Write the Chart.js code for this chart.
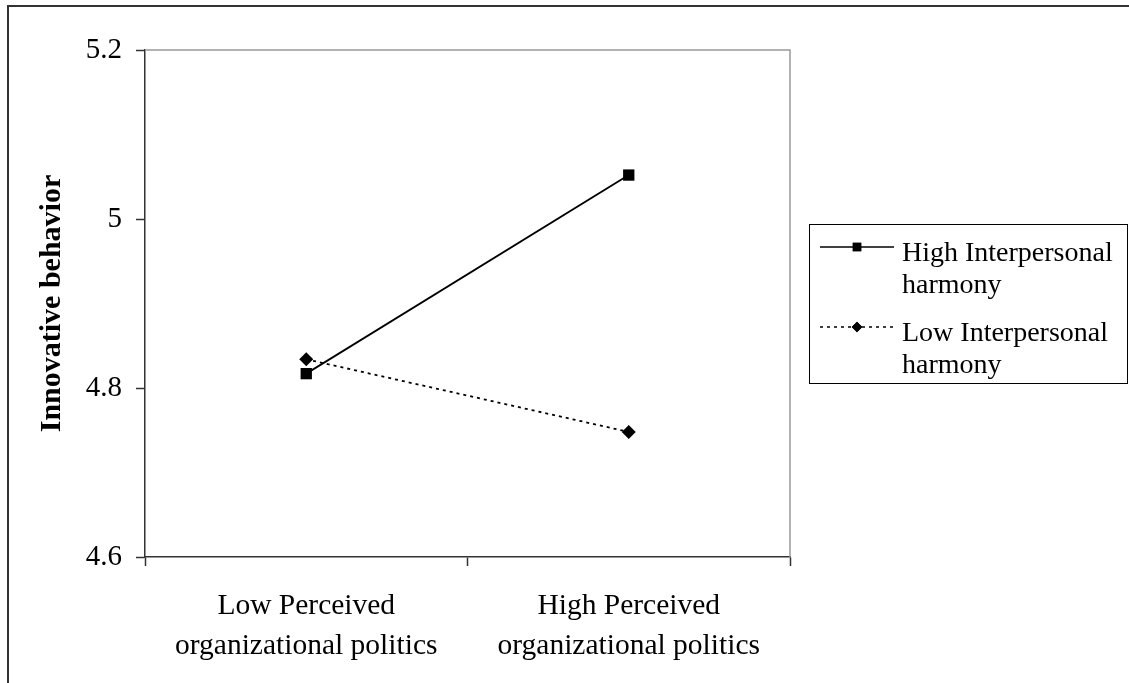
<!DOCTYPE html>
<html>
<head>
<meta charset="utf-8">
<script src="https://cdn.jsdelivr.net/npm/chart.js@4/dist/chart.umd.min.js"></script>
<style>
  html, body { margin: 0; padding: 0; background: #fff; }
  #chart-container { width: 1129px; height: 683px; }
</style>
</head>
<body>
<div id="chart-container"><canvas id="chart" width="1129" height="683"></canvas></div>
<script>
const categories = [
  ['Low Perceived', 'organizational politics'],
  ['High Perceived', 'organizational politics']
]
const highHarmony = [4.817, 5.052]
const lowHarmony = [4.834, 4.748]
const seriesLabels = [
  ['High Interpersonal', 'harmony'],
  ['Low Interpersonal', 'harmony']
]
const yTicks = [4.6, 4.8, 5.0, 5.2]

const FONT = "'Liberation Serif', 'Times New Roman', serif"

// page frame + grey top/right edge of the plot area
const framePlugin = {
  id: 'frame',
  beforeDraw (chart) {
    const ctx = chart.ctx
    ctx.save()
    ctx.fillStyle = '#fff'
    ctx.fillRect(0, 0, chart.width, chart.height)
    ctx.strokeStyle = '#333'
    ctx.lineWidth = 2
    ctx.beginPath()
    ctx.moveTo(8, chart.height)
    ctx.lineTo(8, 6)
    ctx.lineTo(chart.width, 6)
    ctx.stroke()
    ctx.restore()
  },
  afterDraw (chart) {
    const { left, top, right, bottom } = chart.chartArea
    const ctx = chart.ctx
    ctx.save()
    ctx.strokeStyle = '#999'
    ctx.lineWidth = 1.5
    ctx.beginPath()
    ctx.moveTo(left, top)
    ctx.lineTo(right, top)
    ctx.lineTo(right, bottom)
    ctx.stroke()
    ctx.restore()
  }
}

// boxed legend with two-line labels, like the Excel original
const boxLegend = {
  id: 'boxLegend',
  afterDraw (chart) {
    const ctx = chart.ctx
    const x0 = 809
    const y0 = 224
    ctx.save()
    ctx.strokeStyle = '#000'
    ctx.lineWidth = 1
    ctx.strokeRect(x0 + 0.5, y0 + 0.5, 318, 159)
    ctx.font = '28px ' + FONT
    ctx.fillStyle = '#000'
    ctx.textBaseline = 'alphabetic'
    chart.data.datasets.forEach((ds, i) => {
      const base = 261 + i * 80
      const lineY = base - 14
      ctx.strokeStyle = ds.borderColor
      ctx.lineWidth = 1.5
      ctx.setLineDash(ds.borderDash || [])
      ctx.beginPath()
      ctx.moveTo(820, lineY)
      ctx.lineTo(894, lineY)
      ctx.stroke()
      ctx.setLineDash([])
      Chart.helpers.drawPoint(ctx, {
        pointStyle: ds.pointStyle,
        radius: ds.pointRadius * 0.75,
        borderWidth: 0
      }, 857, lineY)
      ctx.fillStyle = '#000'
      ctx.fill()
      seriesLabels[i].forEach((t, j) => {
        ctx.fillText(t, 902, base + j * 32)
      })
    })
    ctx.restore()
  }
}

new Chart(document.getElementById('chart'), {
  type: 'line',
  data: {
    labels: categories,
    datasets: [
      {
        label: seriesLabels[0].join(' '),
        data: highHarmony,
        borderColor: '#000',
        backgroundColor: '#000',
        borderWidth: 1.8,
        pointStyle: 'rect',
        pointRadius: 8,
        pointBorderWidth: 0
      },
      {
        label: seriesLabels[1].join(' '),
        data: lowHarmony,
        borderColor: '#000',
        backgroundColor: '#000',
        borderWidth: 1.8,
        borderDash: [3, 4],
        pointStyle: 'rectRot',
        pointRadius: 7,
        pointBorderWidth: 0
      }
    ]
  },
  options: {
    responsive: false,
    animation: false,
    layout: { padding: { top: 50, right: 339, left: 0, bottom: 0 } },
    plugins: {
      legend: { display: false },
      tooltip: { enabled: false }
    },
    scales: {
      x: {
        offset: true,
        afterFit (scale) { scale.height = 126 },
        grid: {
          offset: true,
          drawOnChartArea: false,
          drawTicks: true,
          tickLength: 9,
          tickWidth: 1.5,
          tickColor: '#333'
        },
        border: { color: '#333', width: 1.5 },
        ticks: {
          color: '#000',
          padding: 21,
          maxRotation: 0,
          font: { family: FONT, size: 29.5, lineHeight: 1.33 }
        }
      },
      y: {
        min: 4.6,
        max: 5.2,
        afterFit (scale) { scale.width = 145 },
        afterBuildTicks (scale) { scale.ticks = yTicks.map(v => ({ value: v })) },
        grid: {
          drawOnChartArea: false,
          drawTicks: true,
          tickLength: 9,
          tickWidth: 1.5,
          tickColor: '#333'
        },
        border: { color: '#333', width: 1.5 },
        ticks: {
          color: '#000',
          padding: 14,
          font: { family: FONT, size: 29 },
          callback: v => String(+v.toFixed(1))
        },
        title: {
          display: true,
          text: 'Innovative behavior',
          color: '#000',
          padding: { top: 34, bottom: 0 },
          font: { family: FONT, size: 30, weight: 'bold' }
        }
      }
    }
  },
  plugins: [framePlugin, boxLegend]
})
</script>
</body>
</html>
